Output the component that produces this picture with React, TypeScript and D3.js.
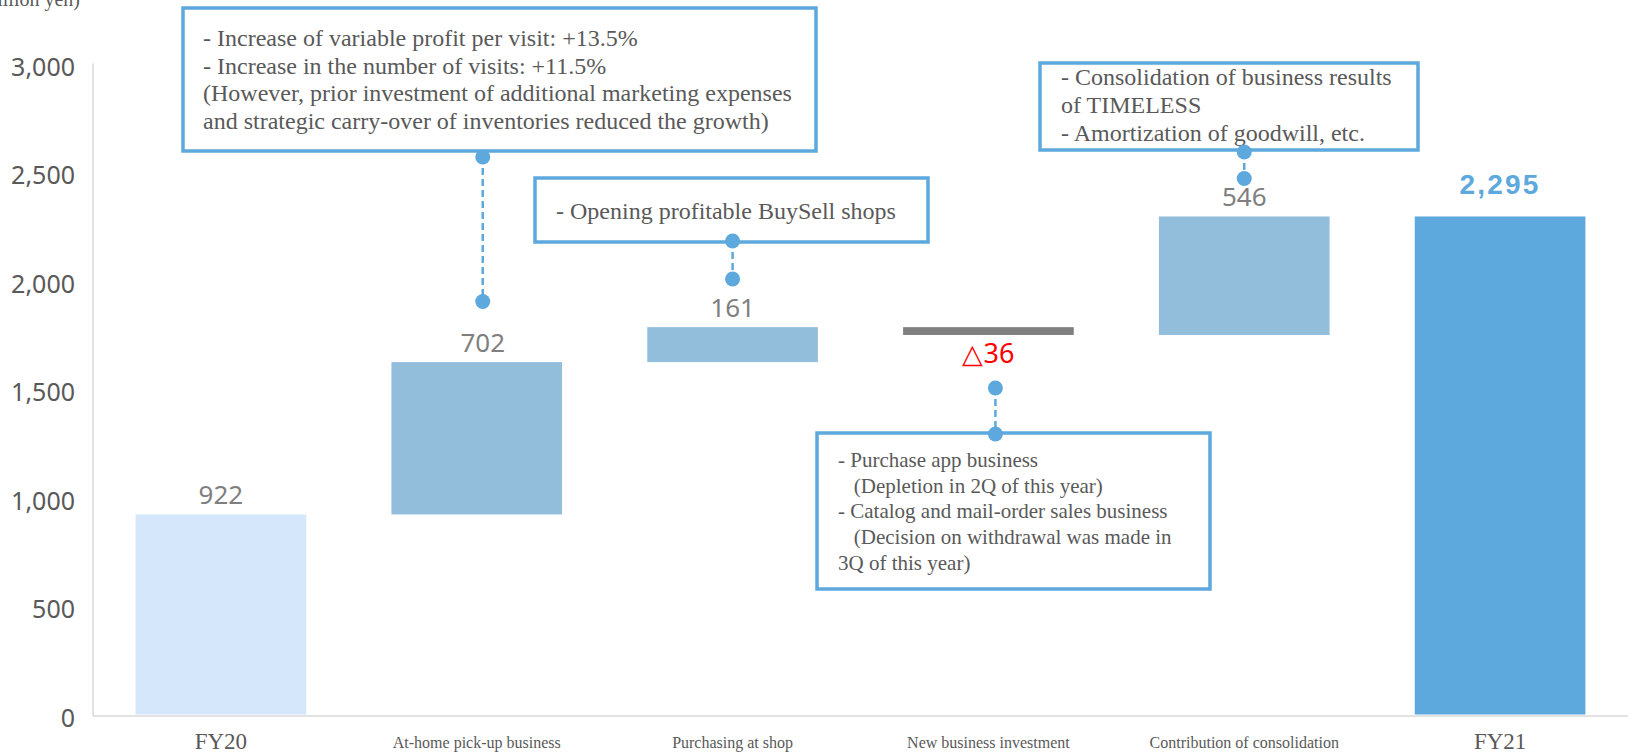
import React from "react";
import * as d3 from "d3";

// ---- data ----
const categories = [
  "FY20",
  "At-home pick-up business",
  "Purchasing at shop",
  "New business investment",
  "Contribution of consolidation",
  "FY21",
];
const kinds = ["total", "delta", "delta", "delta", "delta", "total"];
const values = [922, 702, 161, -36, 546, 2295];
const valueLabels = ["922", "702", "161", "\u25B336", "546", "2,295"];
const yTicks = [0, 500, 1000, 1500, 2000, 2500, 3000];
const unitLabel = "(million yen)";

const box1Lines = [
  "- Increase of variable profit per visit: +13.5%",
  "- Increase in the number of visits: +11.5%",
  "(However, prior investment of additional marketing expenses",
  "and strategic carry-over of inventories reduced the growth)",
];
const box2Lines = ["- Opening profitable BuySell shops"];
const box3Lines = [
  "- Consolidation of business results",
  "of TIMELESS",
  "- Amortization of goodwill, etc.",
];
const box4Lines = [
  "- Purchase app business",
  "   (Depletion in 2Q of this year)",
  "- Catalog and mail-order sales business",
  "   (Decision on withdrawal was made in",
  "3Q of this year)",
];

const W = 1628;
const H = 753;
const BLUE = "#5DA8DC";
const TEXT = "#595959";
const SERIF = "'Liberation Serif', 'Times New Roman', serif";
const SANS = "'Noto Sans', 'Open Sans', sans-serif";

export default function App() {
  const x = d3
    .scaleBand<string>()
    .domain(categories)
    .range([93, 1628])
    .paddingInner(0.333)
    .paddingOuter(0.1665);
  const y = d3.scaleLinear().domain([0, 3000]).range([714.5, 63.5]);

  // waterfall computation
  let run = 0;
  const bars = categories.map((c, i) => {
    let lo: number, hi: number;
    if (kinds[i] === "total") {
      lo = 0;
      hi = values[i];
      run = values[i];
    } else {
      const s = run;
      run = run + values[i];
      lo = Math.min(s, run);
      hi = Math.max(s, run);
    }
    return { c, i, lo, hi, v: values[i], kind: kinds[i] };
  });

  const colorOf = (b: any) => {
    if (b.i === 0) return "#D5E8FB";
    if (b.i === categories.length - 1) return "#5DA8DC";
    if (b.v < 0) return "#7F7F7F";
    return "#92BEDC";
  };

  const bw = x.bandwidth();
  const cx = (c: string) => (x(c) as number) + bw / 2;

  // annotation layout
  const boxes = [
    { x0: 183, y0: 8, x1: 816, y1: 151, lines: box1Lines, tx: 203, ty: 46, lh: 27.7, fs: 24 },
    { x0: 535, y0: 178, x1: 928, y1: 242, lines: box2Lines, tx: 556, ty: 219, lh: 28, fs: 24 },
    { x0: 1040, y0: 63, x1: 1418, y1: 150, lines: box3Lines, tx: 1061, ty: 85, lh: 28, fs: 24 },
    { x0: 817, y0: 433, x1: 1210, y1: 589, lines: box4Lines, tx: 838, ty: 467, lh: 25.7, fs: 21 },
  ];
  const connectors = [
    { c: categories[1], dx: 6, ya: 157, yb: 301.5 },
    { c: categories[2], dx: 0, ya: 241, yb: 279 },
    { c: categories[4], dx: 0, ya: 152, yb: 178.5 },
    { c: categories[3], dx: 7, ya: 388, yb: 434 },
  ];

  return (
    <div style={{ position: "fixed", left: 0, top: 0, width: W, height: H, background: "#fff" }}>
      <svg width={W} height={H} style={{ display: "block" }}>
        {/* unit label */}
        <text x={80} y={6} textAnchor="end" fontFamily={SERIF} fontSize={20} fill={TEXT}>
          {unitLabel}
        </text>

        {/* y tick labels */}
        {yTicks.map((t) => (
          <text
            key={t}
            x={75}
            y={y(t) + 3}
            dy="0.36em"
            textAnchor="end"
            fontFamily={SANS}
            fontSize={25}
            fill={TEXT}
          >
            {d3.format(",")(t)}
          </text>
        ))}

        {/* axes */}
        <line x1={93} x2={93} y1={y(3000)} y2={716} stroke="#D9D9D9" strokeWidth={1.5} />
        <line x1={93} x2={W} y1={716} y2={716} stroke="#D9D9D9" strokeWidth={1.5} />

        {/* bars */}
        {bars.map((b) => (
          <rect
            key={b.c}
            x={x(b.c)}
            y={y(b.hi)}
            width={bw}
            height={Math.max(1, y(b.lo) - y(b.hi))}
            fill={colorOf(b)}
          />
        ))}

        {/* value labels */}
        {bars.map((b) => {
          const isLast = b.i === categories.length - 1;
          const neg = b.v < 0;
          const lx = cx(b.c) + (b.i === 1 ? 6 : 0);
          const ly = neg ? y(b.lo) + 28 : isLast ? y(b.hi) - 22 : y(b.hi) - 10;
          return (
            <text
              key={"l" + b.c}
              x={lx}
              y={ly}
              textAnchor="middle"
              fontFamily={isLast ? "'Liberation Sans', Arial, sans-serif" : SANS}
              fontSize={isLast ? 28 : neg ? 27 : 26}
              fontWeight={isLast ? 700 : 400}
              letterSpacing={isLast ? 2.2 : 0}
              fill={neg ? "#FF0000" : isLast ? BLUE : "#7F7F7F"}
            >
              {valueLabels[b.i]}
            </text>
          );
        })}

        {/* x category labels */}
        {categories.map((c, i) => {
          const big = i === 0 || i === categories.length - 1;
          return (
            <text
              key={"c" + c}
              x={cx(c)}
              y={big ? 749 : 748}
              textAnchor="middle"
              fontFamily={SERIF}
              fontSize={big ? 23 : 16}
              fill={TEXT}
            >
              {c}
            </text>
          );
        })}

        {/* connectors */}
        {connectors.map((k, i) => {
          const px = cx(k.c) + k.dx;
          return (
            <line
              key={"k" + i}
              x1={px}
              x2={px}
              y1={k.ya}
              y2={k.yb}
              stroke={BLUE}
              strokeWidth={2.5}
              strokeDasharray="7,4"
            />
          );
        })}

        {/* boxes */}
        {boxes.map((bx, i) => (
          <g key={"b" + i}>
            <rect
              x={bx.x0}
              y={bx.y0}
              width={bx.x1 - bx.x0}
              height={bx.y1 - bx.y0}
              fill="#fff"
              stroke={BLUE}
              strokeWidth={3.5}
            />
            {bx.lines.map((ln, j) => (
              <text
                key={j}
                x={bx.tx}
                y={bx.ty + j * bx.lh}
                fontFamily={SERIF}
                fontSize={bx.fs}
                fill={TEXT}
                style={{ whiteSpace: "pre" }}
              >
                {ln}
              </text>
            ))}
          </g>
        ))}

        {/* connector dots */}
        {connectors.map((k, i) => {
          const px = cx(k.c) + k.dx;
          return (
            <g key={"d" + i}>
              <circle cx={px} cy={k.ya} r={7.5} fill={BLUE} />
              <circle cx={px} cy={k.yb} r={7.5} fill={BLUE} />
            </g>
          );
        })}
      </svg>
    </div>
  );
}
